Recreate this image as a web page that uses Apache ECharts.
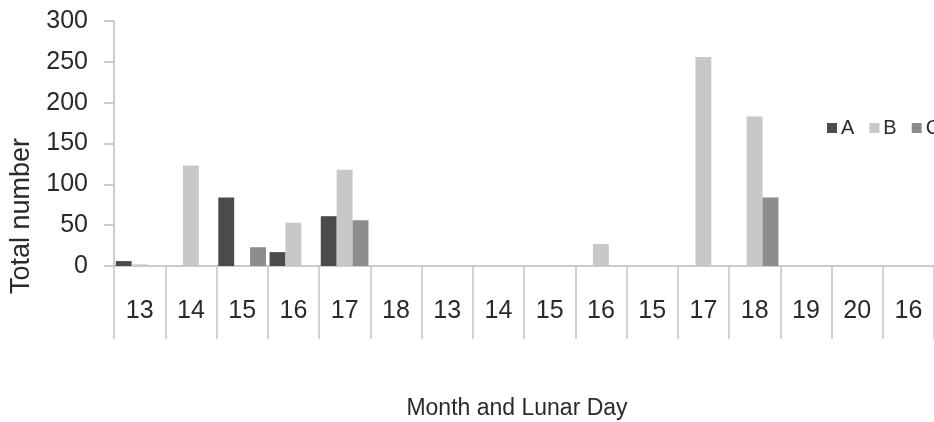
<!DOCTYPE html>
<html>
<head>
<meta charset="utf-8">
<script src="https://cdn.jsdelivr.net/npm/echarts@6/dist/echarts.min.js"></script>
<style>
html,body{margin:0;padding:0;background:#fff;}
#c{width:934px;height:422px;}
</style>
</head>
<body>
<div id="c"></div>
<script>
const categories = ['13','14','15','16','17','18','13','14','15','16','15','17','18','19','20','16'];
const seriesNames = ['A','B','C'];
const valuesA = [6, 0, 84, 17, 61, 0, 0, 0, 0, 0, 0, 0, 0, 0, 0, 0];
const valuesB = [2, 123, 0, 53, 118, 0, 0, 0, 0, 27, 0, 256, 183, 0, 0, 0];
const valuesC = [0, 0, 23, 0, 56, 0, 0, 0, 0, 0, 0, 0, 84, 0, 0, 0];
const yTicks = [0, 50, 100, 150, 200, 250, 300];
const yTitle = 'Total number';
const xTitle = 'Month and Lunar Day';

const FONT = "'Liberation Sans', Arial, sans-serif";
const colors = ['#4b4b4b', '#c8c8c8', '#8c8c8c'];
const chart = echarts.init(document.getElementById('c'), null, {renderer: 'canvas'});
const allValues = [valuesA, valuesB, valuesC];

chart.setOption({
  animation: false,
  backgroundColor: '#ffffff',
  color: colors,
  grid: {left: 114, right: -5, top: 21, bottom: 156, containLabel: false},
  legend: {
    data: seriesNames,
    left: 827, top: 118, width: 400,
    padding: 0,
    orient: 'horizontal',
    itemWidth: 10, itemHeight: 10, itemGap: 15,
    icon: 'rect',
    textStyle: {fontFamily: FONT, fontSize: 20, color: '#2a2a2a', padding: [0,0,0,-1]}
  },
  xAxis: {
    type: 'category',
    data: categories,
    boundaryGap: true,
    axisLine: {show: true, lineStyle: {color: '#bcbcbc', width: 1.5}},
    axisTick: {show: true, interval: 0, length: 73, lineStyle: {color: '#c4c4c4', width: 1.5}},
    axisLabel: {interval: 0, margin: 33, fontFamily: FONT, fontSize: 25, color: '#2a2a2a'},
    splitLine: {show: false}
  },
  yAxis: {
    type: 'value',
    min: yTicks[0], max: yTicks[yTicks.length - 1], interval: 50,
    axisLine: {show: true, lineStyle: {color: '#bcbcbc', width: 1.5}},
    axisTick: {show: true, length: 10, lineStyle: {color: '#bcbcbc', width: 1.5}},
    axisLabel: {margin: 26, fontFamily: FONT, fontSize: 25, color: '#2a2a2a'},
    splitLine: {show: false}
  },
  graphic: [
    {type: 'text', x: 22, y: 216, rotation: Math.PI / 2,
     style: {text: yTitle, fontFamily: FONT, fontSize: 27, fill: '#2a2a2a', align: 'center', verticalAlign: 'middle'}},
    {type: 'text', x: 517, y: 409,
     style: {text: xTitle, fontFamily: FONT, fontSize: 23, fill: '#2a2a2a', align: 'center', verticalAlign: 'middle'}}
  ],
  series: seriesNames.map((n, i) => ({
    name: n, type: 'bar', data: allValues[i],
    barGap: '0%', barCategoryGap: '7%',
    itemStyle: {color: colors[i]}
  }))
});
</script>
</body>
</html>
